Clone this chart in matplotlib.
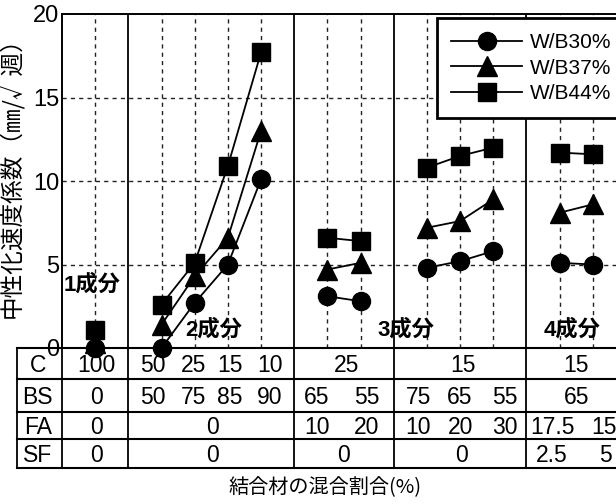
import matplotlib
matplotlib.use("Agg")
import matplotlib.pyplot as plt
import numpy as np

# ---- data ----
x_pos = [1, 3, 4, 5, 6, 8, 9, 11, 12, 13, 15, 16]
wb30 = [0.0, 0.0, 2.7, 5.0, 10.1, 3.1, 2.8, 4.8, 5.2, 5.8, 5.1, 5.0]
wb37 = [0.3, 1.4, 4.3, 6.6, 13.0, 4.7, 5.1, 7.2, 7.6, 8.9, 8.1, 8.6]
wb44 = [1.1, 2.6, 5.1, 10.9, 17.7, 6.6, 6.4, 10.8, 11.5, 12.0, 11.7, 11.6]
groups = [[0], [1, 2, 3, 4], [5, 6], [7, 8, 9], [10, 11]]
series_labels = ["W/B30%", "W/B37%", "W/B44%"]
group_labels = ["1成分", "2成分", "3成分", "4成分"]
yticks = [0, 5, 10, 15, 20]

row_labels = ["C", "BS", "FA", "SF"]
row_C = [("100", 1.05), ("50", 2.75), ("25", 3.96), ("15", 5.06), ("10", 6.27),
         ("25", 8.58), ("15", 12.1), ("15", 15.5)]
row_BS = [("0", 1.05), ("50", 2.75), ("75", 3.96), ("85", 5.06), ("90", 6.27),
          ("65", 7.68), ("55", 9.19), ("75", 10.74), ("65", 12.0), ("55", 13.36),
          ("65", 15.5)]
row_FA = [("0", 1.05), ("0", 4.55), ("10", 7.68), ("20", 9.19), ("10", 10.74),
          ("20", 12.0), ("30", 13.36), ("17.5", 14.8), ("15", 16.35)]
row_SF = [("0", 1.05), ("0", 4.55), ("0", 8.5), ("0", 12.05), ("2.5", 14.76),
          ("5", 16.37)]
rows = [row_C, row_BS, row_FA, row_SF]

LAT = ["Liberation Sans", "Noto Sans CJK JP", "DejaVu Sans"]
CJK = ["Noto Sans CJK JP", "DejaVu Sans"]
plt.rcParams["font.family"] = LAT

W, H = 616, 504
fig = plt.figure(figsize=(W / 100, H / 100), dpi=100)

ax_l, ax_r, ax_b, ax_t = 62, 616, 348, 14
ax = fig.add_axes([ax_l / W, 1 - ax_b / H, (ax_r - ax_l) / W, (ax_b - ax_t) / H])
xmax = 16.7
ax.set_xlim(0, xmax)
ax.set_ylim(0, 20)
ax.set_yticks(yticks)
ax.set_yticklabels([str(t) for t in yticks], fontsize=17)
ax.tick_params(axis="y", length=0, pad=2)
ax.set_xticks([])
for s in ["right", "bottom"]:
    ax.spines[s].set_visible(False)
ax.spines["top"].set_linewidth(1.4)
ax.spines["left"].set_linewidth(1.4)

dash = (0, (3, 3))
for yv in [5, 10, 15]:
    ax.axhline(yv, color="#222222", lw=1.0, ls=dash, zorder=1)
for xv in x_pos:
    ax.axvline(xv, color="#222222", lw=1.0, ls=dash, zorder=1)
for xv in [2, 7, 10, 14]:
    ax.axvline(xv, color="black", lw=1.3, zorder=1.5)

x_arr = np.array(x_pos, dtype=float)
markers = ["o", "^", "s"]
sizes = [13, 14, 13]
for vals, m, ms, lab in zip([wb30, wb37, wb44], markers, sizes, series_labels):
    v = np.array(vals)
    first = True
    for g in groups:
        ax.plot(x_arr[g], v[g], color="black", lw=1.3, marker=m, ms=ms,
                mfc="black", mec="black", label=lab if first else None,
                zorder=3, clip_on=False)
        first = False

ax.set_ylabel("中性化速度係数（㎜/√週）", fontsize=17, family=CJK)
ax.yaxis.set_label_coords((24 - ax_l) / (ax_r - ax_l), (ax_b - 172) / (ax_b - ax_t))

glab_pos = [(0.9, 3.77), (4.58, 1.08), (10.37, 1.08), (15.39, 1.08)]
for t, (gx, gy) in zip(group_labels, glab_pos):
    ax.text(gx, gy, t, fontsize=16, fontweight="bold", ha="center",
            va="center", family=LAT, zorder=4)

leg = ax.legend(loc="upper left",
                bbox_to_anchor=((436.7 - ax_l) / (ax_r - ax_l), (ax_b - 18.3) / (ax_b - ax_t)),
                fontsize=15, frameon=True, fancybox=False, framealpha=1,
                edgecolor="black", handlelength=3.4, handletextpad=0.35,
                borderpad=0.7, labelspacing=0.32, borderaxespad=0)
leg.get_frame().set_linewidth(2.0)
leg.set_zorder(5)

# ---- table ----
tb_l, tb_b = 16.7, 468.3
tax = fig.add_axes([tb_l / W, 1 - tb_b / H, (W - tb_l) / W, (tb_b - ax_b) / H])
px_per_unit = (ax_r - ax_l) / xmax
tax.set_xlim(-(ax_l - tb_l) / px_per_unit, xmax)
row_edges = [0, 31.3, 64.3, 91.3, 120.3]
tax.set_ylim(row_edges[-1], 0)
tax.axis("off")
x0 = -(ax_l - tb_l) / px_per_unit
for ye in row_edges:
    tax.plot([x0, xmax], [ye, ye], color="black", lw=1.5, clip_on=False)
for xv in [x0, 0, 2, 7, 10, 14]:
    tax.plot([xv, xv], [0, row_edges[-1]], color="black", lw=1.3, clip_on=False)
row_centers = [(row_edges[i] + row_edges[i + 1]) / 2 + 1.5 for i in range(4)]
for lab, yc in zip(row_labels, row_centers):
    tax.text(-0.73, yc, lab, ha="center", va="center", fontsize=16.5)
for r, yc in zip(rows, row_centers):
    for txt, xv in r:
        tax.text(xv, yc, txt, ha="center", va="center", fontsize=16.5, clip_on=False)

fig.text(325 / W, 1 - 488 / H, "結合材の混合割合(%)", ha="center", va="center",
         fontsize=14.5, family=CJK)

fig.savefig("out.png", dpi=100)
